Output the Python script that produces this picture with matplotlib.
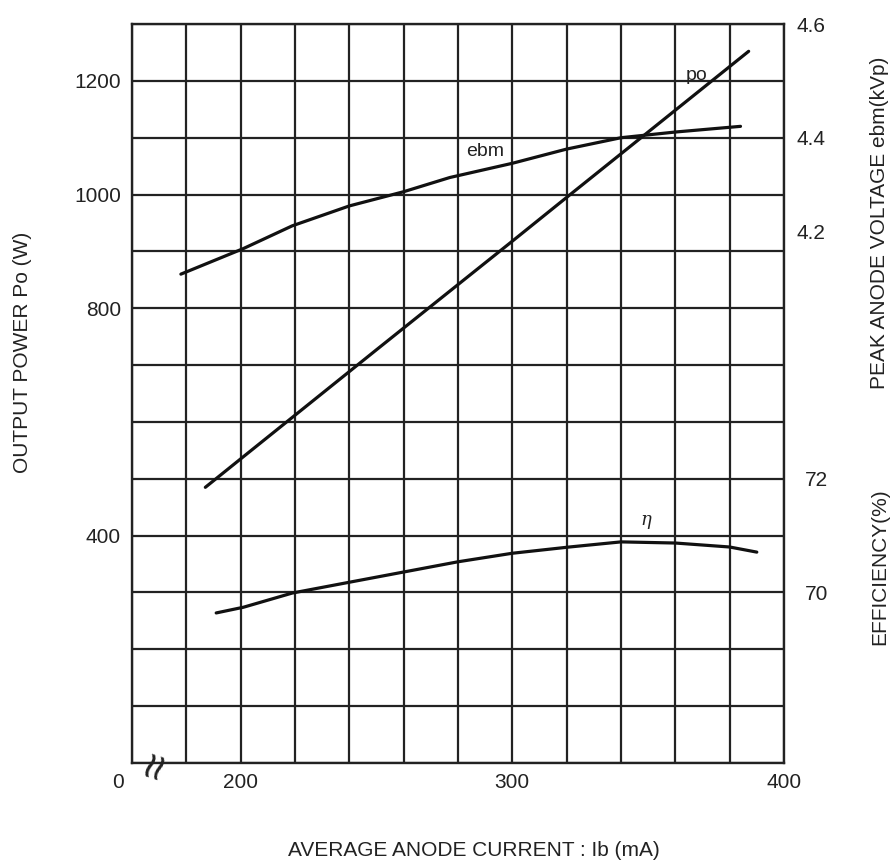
import matplotlib
matplotlib.use("Agg")
import matplotlib.pyplot as plt
import matplotlib.transforms as mtransforms
import numpy as np

plt.rcParams['font.family'] = ['Liberation Sans', 'DejaVu Sans']

# output power Po (W) vs Ib (mA)
po_ib = [187, 200, 250, 300, 320, 350, 387]
po_w = [485, 535, 727, 918, 995, 1110, 1252]

# peak anode voltage ebm (kVp)
ebm_ib = [178, 201, 219, 240, 260, 277, 300, 320, 340, 360, 384]
ebm_kv = [4.16, 4.205, 4.245, 4.28, 4.305, 4.33, 4.355, 4.38, 4.40, 4.41, 4.42]

# efficiency (%)
eff_ib = [191, 201, 219, 240, 260, 280, 300, 321, 340, 360, 380, 390]
eff_pct = [69.64, 69.74, 69.99, 70.18, 70.36, 70.54, 70.69, 70.80, 70.89, 70.87, 70.80, 70.71]

x_ticks = [200, 300, 400]
po_ticks = [400, 800, 1000, 1200]
ebm_ticks = [4.2, 4.4, 4.6]
eff_ticks = [70, 72]

ink = '#222222'
fs = 15

fig = plt.figure(figsize=(8.93, 8.61), dpi=100)
ax = fig.add_axes([0.1478, 0.1138, 0.7301, 0.8583])

ax.set_xlim(160, 400)
ax.set_ylim(0, 1300)
ax.set_xticks(np.arange(160, 401, 20), minor=True)
ax.set_yticks(np.arange(0, 1301, 100), minor=True)
ax.set_xticks(x_ticks)
ax.set_yticks(po_ticks)
ax.grid(True, which='both', color=ink, lw=1.6)
ax.tick_params(which='both', length=0, labelsize=fs, colors=ink)
ax.tick_params(axis='x', pad=7)
ax.tick_params(axis='y', pad=8)
for s in ax.spines.values():
    s.set_linewidth(1.7)
    s.set_color(ink)

ax.plot(po_ib, po_w, color='#111111', lw=2.3, solid_capstyle='round')

ax_v = ax.twinx()
ax_v.set_ylim(3.3, 4.6)
ax_v.set_yticks(ebm_ticks)
ax_v.set_yticklabels(['4.2', '4.4', '4.6'])
ax_v.tick_params(length=0, labelsize=fs, colors=ink, pad=9)
ax_v.plot(ebm_ib, ebm_kv, color='#111111', lw=2.3, solid_capstyle='round')
# the 4.2 label sits a little high in the original print
lab42 = ax_v.get_yticklabels()[0]
lab42.set_transform(lab42.get_transform() +
                    mtransforms.ScaledTranslation(0, 0.2, fig.dpi_scale_trans))

ax_e = ax.twinx()
ax_e.set_ylim(67, 80)
ax_e.set_yticks(eff_ticks)
ax_e.tick_params(length=0, labelsize=fs, colors=ink, pad=15)
ax_e.plot(eff_ib, eff_pct, color='#111111', lw=2.3, solid_capstyle='round')

for a in (ax_v, ax_e):
    for s in a.spines.values():
        s.set_visible(False)

ax.set_xlabel('AVERAGE ANODE CURRENT : Ib (mA)', fontsize=fs, color=ink)
ax.xaxis.set_label_coords(0.5245, -0.106)
ax.set_ylabel('OUTPUT POWER Po (W)', fontsize=fs, color=ink)
ax.yaxis.set_label_coords(-0.153, 0.556)
ax_v.set_ylabel('PEAK ANODE VOLTAGE ebm(kVp)', fontsize=fs, color=ink)
ax_v.yaxis.set_label_coords(1.132, 0.7307)
ax_e.set_ylabel('EFFICIENCY(%)', fontsize=fs, color=ink)
ax_e.yaxis.set_label_coords(1.132, 0.265)

ax.text(-0.022, -0.013, '0', transform=ax.transAxes, ha='center', va='top',
        fontsize=fs, color=ink)
ax.text(0.039, -0.005, '\u2248', transform=ax.transAxes, ha='center', va='center',
        fontsize=34, rotation=72, color=ink)

ax.text(368, 1210, 'po', fontsize=14, color=ink, ha='center', va='center')
ax.text(290, 1076, 'ebm', fontsize=14, color=ink, ha='center', va='center')
ax.text(349, 427, '\u03b7', fontsize=13, color=ink, ha='center', va='center',
        family='DejaVu Serif', style='italic')

fig.savefig('out.png', dpi=100)
